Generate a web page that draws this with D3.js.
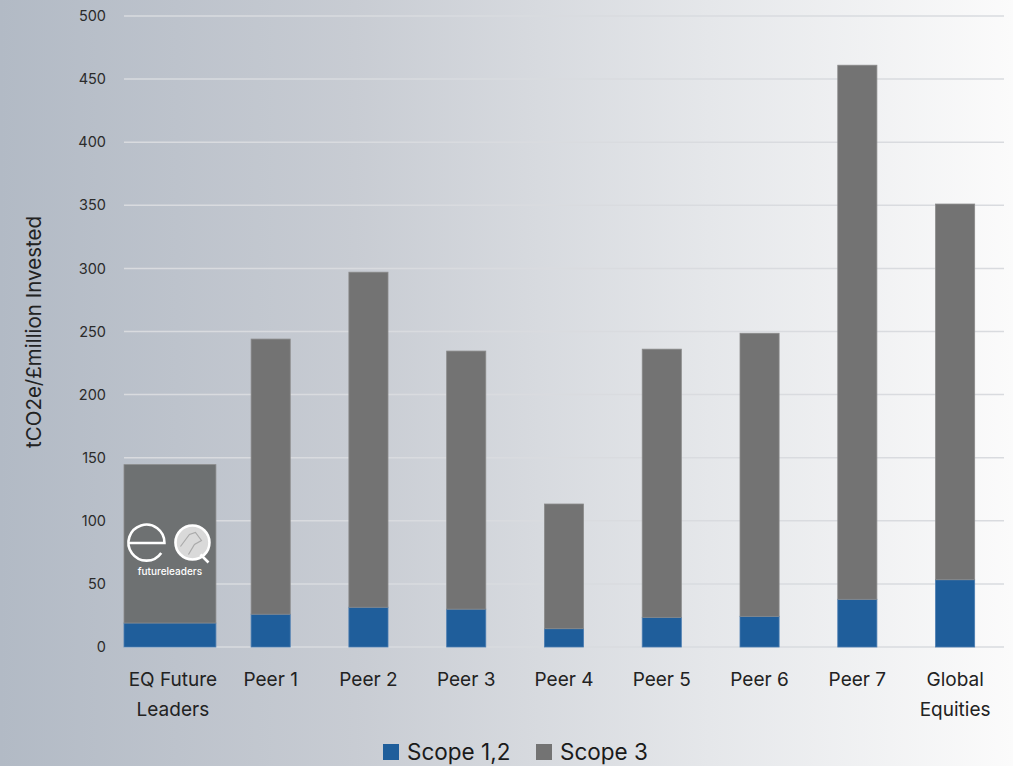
<!DOCTYPE html>
<html><head><meta charset="utf-8">
<script src="https://cdn.jsdelivr.net/npm/d3@7"></script>
<style>
html,body{margin:0;padding:0;overflow:hidden;}
svg{display:block;font-family:Inter,"Noto Sans",sans-serif;}
</style></head>
<body>
<svg id="chart" width="1013" height="766"></svg>
<script>
const categories = ["EQ Future Leaders","Peer 1","Peer 2","Peer 3","Peer 4","Peer 5","Peer 6","Peer 7","Global Equities"];
const categoryLabels = [["EQ Future","Leaders"],["Peer 1"],["Peer 2"],["Peer 3"],["Peer 4"],["Peer 5"],["Peer 6"],["Peer 7"],["Global","Equities"]];
const scope12 = [19, 26, 31.5, 30, 14.5, 23.5, 24.3, 37.8, 53.3];
const scope3 = [125.5, 218, 265.5, 204.5, 98.8, 212.5, 224.3, 423.2, 297.7];
const yTicks = [0,50,100,150,200,250,300,350,400,450,500];
const seriesNames = ["Scope 1,2","Scope 3"];
const seriesColors = ["#1f5e9b","#737373"];

const svg = d3.select("#chart");
const W = 1013, H = 766;

const defs = svg.append("defs");
const grad = defs.append("linearGradient").attr("id","bg").attr("x1","0").attr("x2","1").attr("y1","0").attr("y2","0");
grad.append("stop").attr("offset","0").attr("stop-color","#b2bac5");
grad.append("stop").attr("offset","0.35").attr("stop-color","#c8ccd3");
grad.append("stop").attr("offset","0.7").attr("stop-color","#e5e7ea");
grad.append("stop").attr("offset","1").attr("stop-color","#fbfbfb");
svg.append("rect").attr("width",W).attr("height",H).attr("fill","url(#bg)");

const x = d3.scaleBand().domain(categories).range([124,1004]).paddingInner(0.6).paddingOuter(0.3);
const y = d3.scaleLinear().domain([0,500]).range([647,16]);

// gridlines
svg.append("g").selectAll("line").data(yTicks).join("line")
  .attr("x1",124).attr("x2",1004)
  .attr("y1",d=>y(d)).attr("y2",d=>y(d))
  .attr("stroke","#d9dbdf").attr("stroke-width",1.5);

// y axis labels
const yAxis = d3.axisLeft(y).tickValues(yTicks).tickSize(0).tickPadding(0);
const ya = svg.append("g").attr("transform","translate(106,0)").call(yAxis);
ya.select(".domain").remove();
ya.selectAll("text").attr("font-size",14.5).attr("fill","#2b2b2b").attr("font-family","Inter,'Noto Sans',sans-serif");

// stacked data
const stackData = categories.map((c,i)=>({cat:c, s12:scope12[i], s3:scope3[i]}));
const stack = d3.stack().keys(["s12","s3"]);
const series = stack(stackData);

function barX(d){
  if (d.data.cat === categories[0]) return x.range()[0];
  return x(d.data.cat);
}
function barW(d){
  if (d.data.cat === categories[0]) return x.step()*0.94;
  return x.bandwidth();
}

series.forEach((s,si)=>{
  svg.append("g").selectAll("rect").data(s).join("rect")
    .attr("x",d=>barX(d))
    .attr("width",d=>barW(d))
    .attr("y",d=>y(d[1]))
    .attr("height",d=>y(d[0])-y(d[1]))
    .attr("fill",d=> (si===1 && d.data.cat===categories[0]) ? "#6e7172" : seriesColors[si])
    .attr("stroke", si===1 ? "#8a8a8a" : "#4a7cb0").attr("stroke-width",0.8);
});

// EQ logo on first bar
const bx = x.range()[0], bw = x.step()*0.94, cx = bx + bw/2;
const logo = svg.append("g");
const ecx = cx-23.5, ecy = 543, er = 18;
logo.append("path")
  .attr("d", `M${ecx-er+1},${ecy} L${ecx+er},${ecy} A${er},${er} 0 1 0 ${ecx+er*0.82},${ecy+er*0.55}`)
  .attr("fill","none").attr("stroke","#fff").attr("stroke-width",2.6);
const qcx = cx+22.5, qcy = 542.5, qr = 17;
logo.append("circle").attr("cx",qcx).attr("cy",qcy).attr("r",qr).attr("fill","#d9d9d9").attr("stroke","#fff").attr("stroke-width",2.6);
logo.append("path").attr("d",`M${qcx-12},${qcy+4} L${qcx-3},${qcy-8} L${qcx+3},${qcy-10} L${qcx+9},${qcy-2} L${qcx+2},${qcy+2} L${qcx-4},${qcy+12}`)
  .attr("fill","none").attr("stroke","#aaa").attr("stroke-width",1.2);
logo.append("path").attr("d",`M${qcx+8},${qcy+12} L${qcx+16},${qcy+20}`).attr("stroke","#fff").attr("stroke-width",2.6);
logo.append("text").attr("x",cx).attr("y",575).attr("text-anchor","middle")
  .attr("fill","#fff").attr("font-size",10).attr("font-weight",500).text("futureleaders");

// x labels
const xl = svg.append("g");
categories.forEach((c,i)=>{
  const cxp = x(c)+x.bandwidth()/2;
  categoryLabels[i].forEach((line,li)=>{
    xl.append("text").attr("x",cxp).attr("y",686+li*30).attr("text-anchor","middle")
      .attr("font-size",19).attr("fill","#222").text(line);
  });
});

// y axis title
svg.append("text").attr("transform","translate(41,332) rotate(-90)").attr("text-anchor","middle")
  .attr("font-size",20.5).attr("fill","#222").text("tCO2e/£million Invested");

// legend
const legendX = [383, 536];
seriesNames.forEach((n,i)=>{
  svg.append("rect").attr("x",legendX[i]).attr("y",744).attr("width",16).attr("height",16).attr("fill",seriesColors[i]);
  svg.append("text").attr("x",legendX[i]+24).attr("y",760).attr("font-size",22.5).attr("fill","#1a1a1a").text(n);
});
</script>
</body></html>
